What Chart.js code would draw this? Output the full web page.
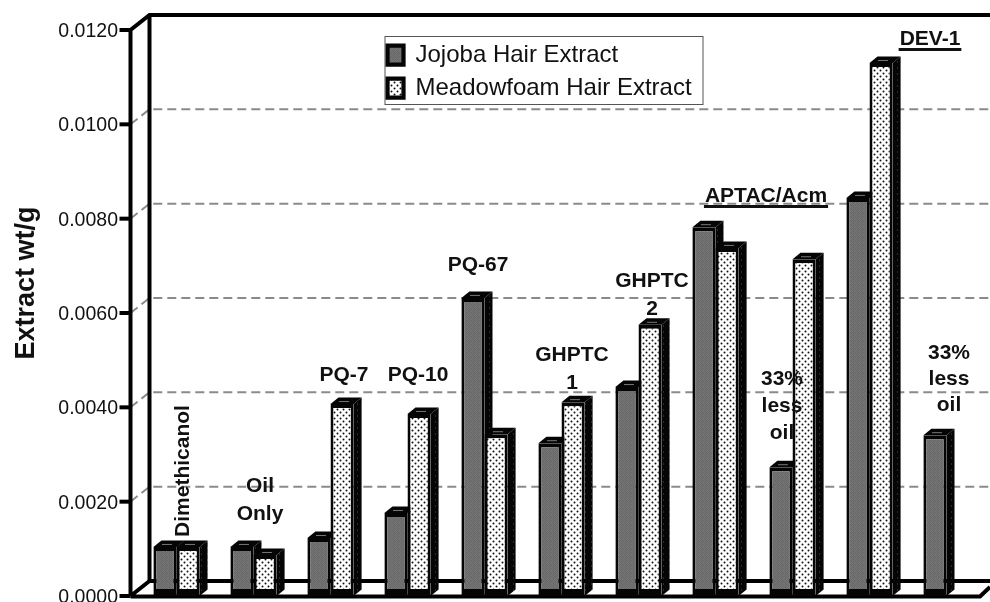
<!DOCTYPE html>
<html>
<head>
<meta charset="utf-8">
<title>Extract wt/g</title>
<script src="https://cdn.jsdelivr.net/npm/chart.js@4"></script>
<style>
  html, body { margin: 0; padding: 0; background: #fff; overflow: hidden; }
  canvas { display: block; }
</style>
</head>
<body>
<canvas id="myChart" width="990" height="602"></canvas>
<script>
const categories = ['Dimethicanol', 'Oil Only', 'PQ-7', 'PQ-10', 'PQ-67', 'GHPTC 1', 'GHPTC 2', 'APTAC/Acm', 'APTAC/Acm 33% less oil', 'DEV-1', 'DEV-1 33% less oil'];
const jojoba = [0.00104, 0.00104, 0.00123, 0.00176, 0.00632, 0.00324, 0.00443, 0.00782, 0.00273, 0.00844, 0.00341];
const meadowfoam = [0.00104, 0.00087, 0.00407, 0.00386, 0.00343, 0.00411, 0.00575, 0.00738, 0.00714, 0.0113, null];
const seriesNames = ['Jojoba Hair Extract', 'Meadowfoam Hair Extract'];
const yTicks = [0, 0.002, 0.004, 0.006, 0.008, 0.01, 0.012];

// Text written over the bars: lines, then where each line sits
const notes = [
  { lines: ['Oil', 'Only'], x: 260, y: [486, 514] },
  { lines: ['PQ-7'], x: 344, y: [375] },
  { lines: ['PQ-10'], x: 418, y: [375] },
  { lines: ['PQ-67'], x: 478, y: [265] },
  { lines: ['GHPTC', '1'], x: 572, y: [355, 383] },
  { lines: ['GHPTC', '2'], x: 652, y: [281, 309] },
  { lines: ['APTAC/Acm'], x: 766, y: [196], underline: true },
  { lines: ['33%', 'less', 'oil'], x: 782, y: [379, 406, 433] },
  { lines: ['DEV-1'], x: 930, y: [39], underline: true },
  { lines: ['33%', 'less', 'oil'], x: 949, y: [353, 379, 405] }
];

const FONT = '"Liberation Sans", Arial, sans-serif';
const DEPTH_X = 8, DEPTH_Y = 6.5;   // bar extrusion
const WALL_X = 19, WALL_Y = 15;     // back wall offset

function makePattern(size, draw) {
  const c = document.createElement('canvas');
  c.width = size;
  c.height = size;
  draw(c.getContext('2d'));
  return c.getContext('2d').createPattern(c, 'repeat');
}

// mottled dark grey
const grayFill = makePattern(4, g => {
  const shades = ['#6c6c6c', '#747474', '#676767', '#717171',
                  '#767676', '#6a6a6a', '#727272', '#666666',
                  '#6b6b6b', '#707070', '#6e6e6e', '#787878',
                  '#737373', '#656565', '#757575', '#6d6d6d'];
  shades.forEach((s, i) => {
    g.fillStyle = s;
    g.fillRect(i % 4, Math.floor(i / 4), 1, 1);
  });
});

// white with staggered black dots
const dotFill = makePattern(6, g => {
  g.fillStyle = '#fff';
  g.fillRect(0, 0, 6, 6);
  g.fillStyle = '#111';
  g.beginPath();
  g.arc(1.5, 1.5, 1, 0, Math.PI * 2);
  g.arc(4.5, 4.5, 1, 0, Math.PI * 2);
  g.fill();
});

// black side face with faint dots
const sideFill = makePattern(6, g => {
  g.fillStyle = '#050505';
  g.fillRect(0, 0, 6, 6);
  g.fillStyle = '#2a2a2a';
  g.fillRect(3, 1, 1, 2);
});

const frame3d = {
  id: 'frame3d',
  afterLayout(chart) {
    // float the legend inside the plot
    const legend = chart.legend;
    legend.left = 378.5;
    legend.right = 703;
    legend.top = 34;
    legend.bottom = 110;
  },
  beforeDatasetsDraw(chart) {
    const ctx = chart.ctx, y = chart.scales.y;
    const x0 = chart.chartArea.left - 7.5;
    const x1 = x0 + WALL_X;
    const right = chart.width;
    const y0 = y.getPixelForValue(0);
    const yTop = y.getPixelForValue(0.012);

    ctx.save();
    // dashed gridlines on the back wall
    ctx.strokeStyle = '#8a8a8a';
    ctx.lineWidth = 2;
    ctx.setLineDash([9, 5]);
    yTicks.slice(1, -1).forEach(t => {
      const py = y.getPixelForValue(t);
      ctx.beginPath();
      ctx.moveTo(x0, py);
      ctx.lineTo(x1, py - WALL_Y);
      ctx.lineTo(right, py - WALL_Y);
      ctx.stroke();
    });
    ctx.setLineDash([]);

    // walls and floor
    ctx.strokeStyle = '#000';
    ctx.lineWidth = 4;
    ctx.beginPath();
    ctx.moveTo(x0, y0);
    ctx.lineTo(x0, yTop);
    ctx.lineTo(x1, yTop - WALL_Y);
    ctx.lineTo(right, yTop - WALL_Y);
    ctx.moveTo(x1, yTop - WALL_Y);
    ctx.lineTo(x1, y0 - WALL_Y);
    ctx.lineTo(right, y0 - WALL_Y);
    ctx.moveTo(x0, y0);
    ctx.lineTo(x1, y0 - WALL_Y);
    ctx.moveTo(x0, y0 + 0.5);
    ctx.lineTo(980, y0 + 0.5);
    ctx.lineTo(right, y0 - 9);
    ctx.stroke();

    // tick marks
    yTicks.forEach(t => {
      const py = y.getPixelForValue(t);
      ctx.beginPath();
      ctx.moveTo(x0 - 11, py);
      ctx.lineTo(x0, py);
      ctx.stroke();
    });

    // legend frame
    ctx.lineWidth = 1;
    ctx.strokeStyle = '#555';
    ctx.strokeRect(385, 36.5, 318, 68);

    // sides and tops of the bars, the front faces go on top of these
    chart.data.datasets.forEach((ds, i) => {
      chart.getDatasetMeta(i).data.forEach((bar, j) => {
        if (ds.data[j] === null) return;
        const p = bar.getProps(['x', 'y', 'base', 'width'], true);
        const l = p.x - p.width / 2, r = p.x + p.width / 2;
        ctx.fillStyle = sideFill;
        ctx.beginPath();
        ctx.moveTo(r, p.y);
        ctx.lineTo(r + DEPTH_X, p.y - DEPTH_Y);
        ctx.lineTo(r + DEPTH_X, p.base - DEPTH_Y);
        ctx.lineTo(r, p.base);
        ctx.closePath();
        ctx.fill();
        ctx.fillStyle = '#050505';
        ctx.beginPath();
        ctx.moveTo(l, p.y);
        ctx.lineTo(l + DEPTH_X, p.y - DEPTH_Y);
        ctx.lineTo(r + DEPTH_X, p.y - DEPTH_Y);
        ctx.lineTo(r, p.y);
        ctx.closePath();
        ctx.fill();
        ctx.fillStyle = '#777';
        ctx.fillRect(p.x - 3, p.y - 3, 10, 1);
      });
    });
    ctx.restore();
  },
  afterDatasetsDraw(chart) {
    const ctx = chart.ctx;
    ctx.save();
    ctx.fillStyle = '#111';
    ctx.strokeStyle = '#111';
    ctx.textAlign = 'center';
    ctx.textBaseline = 'middle';
    ctx.font = 'bold 21px ' + FONT;

    notes.forEach(n => {
      n.lines.forEach((line, i) => {
        ctx.fillText(line, n.x, n.y[i]);
        if (n.underline) {
          const w = ctx.measureText(line).width;
          ctx.lineWidth = 3;
          ctx.beginPath();
          ctx.moveTo(n.x - w / 2 - 1, n.y[i] + 10.5);
          ctx.lineTo(n.x + w / 2 + 1, n.y[i] + 10.5);
          ctx.stroke();
        }
      });
    });

    // first category label stands on its bars
    ctx.save();
    ctx.translate(183, 471);
    ctx.rotate(-Math.PI / 2);
    ctx.fillText(categories[0], 0, 0);
    ctx.restore();

    // axis title
    ctx.save();
    ctx.translate(27, 283);
    ctx.rotate(-Math.PI / 2);
    ctx.font = 'bold 27px ' + FONT;
    ctx.fillText('Extract wt/g', 0, 0);
    ctx.restore();
    ctx.restore();
  }
};

new Chart(document.getElementById('myChart').getContext('2d'), {
  type: 'bar',
  data: {
    labels: categories,
    datasets: [
      { label: seriesNames[0], data: jojoba, backgroundColor: grayFill },
      { label: seriesNames[1], data: meadowfoam, backgroundColor: dotFill }
    ]
  },
  plugins: [frame3d],
  options: {
    responsive: false,
    animation: false,
    layout: { autoPadding: false, padding: { top: 30, bottom: 6, left: 0, right: 5 } },
    datasets: {
      bar: {
        categoryPercentage: 0.6,
        barPercentage: 1,
        borderColor: '#050505',
        borderWidth: { top: 4, left: 3, right: 3, bottom: 7 },
        borderSkipped: false
      }
    },
    scales: {
      x: {
        display: false,
        offset: true
      },
      y: {
        min: 0,
        max: 0.012,
        afterFit: scale => {
          scale.width = 138;
          // the 0.0000 label may run off the bottom, as in the original
          scale.paddingTop = 0;
          scale.paddingBottom = 0;
        },
        grid: { display: false, drawTicks: false },
        border: { display: false },
        ticks: {
          stepSize: 0.002,
          autoSkip: false,
          padding: 20,
          labelOffset: 1.5,
          color: '#111',
          font: { family: FONT, size: 19.5 },
          callback: v => v.toFixed(4)
        }
      }
    },
    plugins: {
      tooltip: { enabled: false },
      legend: {
        position: 'chartArea',
        align: 'start',
        labels: {
          boxWidth: 16,
          boxHeight: 19,
          padding: 9,
          color: '#111',
          font: { family: FONT, size: 24 }
        }
      }
    }
  }
});
</script>
</body>
</html>
